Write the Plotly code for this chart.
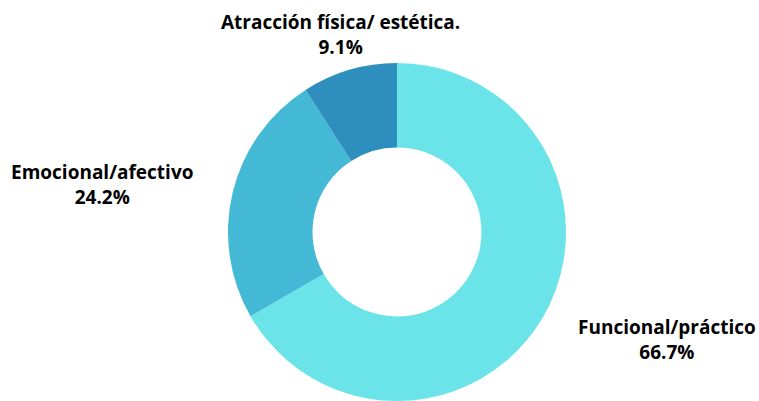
import plotly.graph_objects as go

labels = ["Funcional/práctico", "Emocional/afectivo", "Atracción física/ estética."]
values = [66.7, 24.2, 9.1]
colors = ["#6ae4e9", "#44b9d6", "#2e8fbf"]

W, H = 759, 401
cx, cy, r = 397, 232, 169

fig = go.Figure(go.Pie(
    labels=labels, values=values, sort=False, direction="clockwise", rotation=0,
    hole=0.5, marker=dict(colors=colors, line=dict(width=0)),
    textinfo="none", hoverinfo="label+percent", showlegend=False,
    domain=dict(x=[(cx - r) / W, (cx + r) / W], y=[max(0, (H - cy - r) / H), (H - cy + r) / H]),
))

label_pos = [(667, 339), (102, 184), (340, 34)]
for lab, val, (x, y) in zip(labels, values, label_pos):
    fig.add_annotation(
        x=x / W, y=1 - y / H, xref="paper", yref="paper",
        text=f"<b>{lab}<br>{val:.1f}%</b>", showarrow=False,
        font=dict(family="Open Sans", size=19, color="#000000"),
        xanchor="center", yanchor="middle", align="center",
    )

fig.update_layout(
    width=W, height=H, margin=dict(l=0, r=0, t=0, b=0),
    paper_bgcolor="white", plot_bgcolor="white",
)
fig.write_html("out.html", config={"displayModeBar": False},
               post_script="document.body.style.margin='0';")
